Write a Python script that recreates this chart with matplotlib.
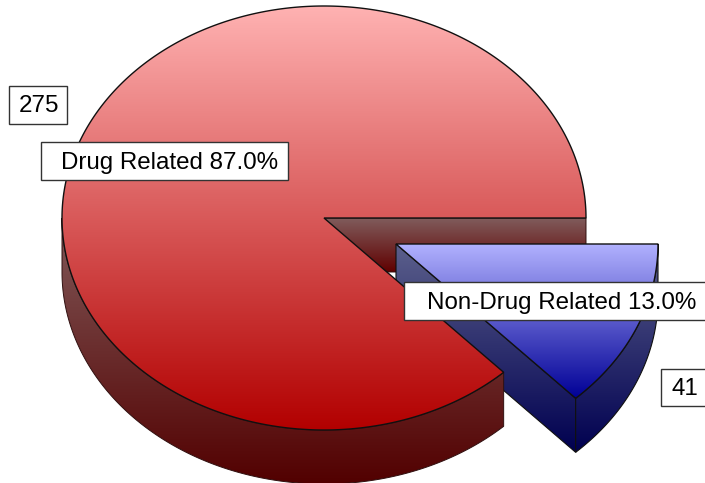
import numpy as np
import matplotlib
matplotlib.use("Agg")
import matplotlib.pyplot as plt
from matplotlib.patches import Polygon, Rectangle

categories = ["Drug Related", "Non-Drug Related"]
counts = [275, 41]
percent_labels = ["87.0%", "13.0%"]

plt.rcParams["font.family"] = ["Liberation Sans", "DejaVu Sans"]
fig = plt.figure(figsize=(7.05, 4.83), dpi=100)
ax = fig.add_axes([0, 0, 1, 1])
ax.set_xlim(0, 705)
ax.set_ylim(483, 0)
ax.axis("off")

share = counts[1] / sum(counts)
sweep = 2 * np.pi * share
CX, CY, RX, RY, DEPTH = 324, 218, 262, 212, 54
OFFX, OFFY = 72, 26


def arc(t0, t1, cx, cy, n=240):
    t = np.linspace(t0, t1, n)
    return np.column_stack([cx + RX * np.cos(t), cy + RY * np.sin(t)])


def shade(points, c_top, c_bot, y0=None, y1=None, z=1, lw=1.0, ec="#101010"):
    points = np.asarray(points)
    y0 = points[:, 1].min() if y0 is None else y0
    y1 = points[:, 1].max() if y1 is None else y1
    x0, x1 = points[:, 0].min(), points[:, 0].max()
    f = np.linspace(0, 1, 512)[:, None, None]
    img = (1 - f) * np.array(c_top)[None, None, :] + f * np.array(c_bot)[None, None, :]
    im = ax.imshow(img / 255.0, extent=(x0, x1, y1, y0), aspect="auto", zorder=z,
                   interpolation="bilinear")
    patch = Polygon(points, closed=True, transform=ax.transData)
    im.set_clip_path(patch)
    ax.add_patch(Polygon(points, closed=True, fc="none", ec=ec, lw=lw, zorder=z + 0.1))


RED_TOP = ((255, 178, 178), (178, 0, 0))
RED_WALL = ((128, 92, 92), (96, 0, 0))
RED_SIDE = ((130, 90, 90), (82, 0, 0))
BLUE_TOP = ((178, 178, 255), (0, 0, 150))
BLUE_SIDE = ((92, 96, 140), (0, 0, 80))

# Red back wall (the cut at angle 0)
yline = DEPTH / np.tan(sweep)
shade([(CX, CY), (CX + RX, CY), (CX + RX, CY + DEPTH), (CX + yline, CY + DEPTH)],
      *RED_WALL, z=1, lw=0.7, ec="#301010")

# Exploded blue slice
bx, by = CX + OFFX, CY + OFFY
blue_arc = arc(0, sweep, bx, by)
shade(np.vstack([[(bx, by)], blue_arc[-1:], blue_arc[-1:] + [0, DEPTH], [(bx, by + DEPTH)]]),
      *BLUE_SIDE, y0=by, y1=by + RY * np.sin(sweep) + DEPTH, z=2, lw=0.8)
shade(np.vstack([blue_arc, (blue_arc + [0, DEPTH])[::-1]]),
      *BLUE_SIDE, z=3, lw=0.8)
shade(np.vstack([[(bx, by)], blue_arc]), *BLUE_TOP, z=4)

# Red outer side and top
red_arc = arc(sweep, np.pi * 2, CX, CY, 600)
lower = arc(sweep, np.pi, CX, CY, 400)
shade(np.vstack([lower, (lower + [0, DEPTH])[::-1]]), *RED_SIDE,
      y0=CY, y1=CY + RY + DEPTH, z=5, lw=0.7, ec="#301010")
shade(np.vstack([[(CX, CY)], red_arc]), *RED_TOP, z=6)


def label(box, txt, tx):
    x0, y0, x1, y1 = box
    ax.add_patch(Rectangle((x0, y0), x1 - x0, y1 - y0, fc="white", ec="#333333",
                           lw=1.0, zorder=10, clip_on=False))
    ax.text(tx, (y0 + y1) / 2 + 1.5, txt, fontsize=17.4, color="black", ha="left",
            va="center", zorder=11, clip_on=False)


label((9, 86, 67, 124), str(counts[0]), 19)
label((41, 142, 288, 180), f"{categories[0]} {percent_labels[0]}", 61)
label((404, 282, 710, 320), f"{categories[1]} {percent_labels[1]}", 427)
label((661, 369, 710, 406), str(counts[1]), 671)

fig.savefig("out.png", dpi=100)
